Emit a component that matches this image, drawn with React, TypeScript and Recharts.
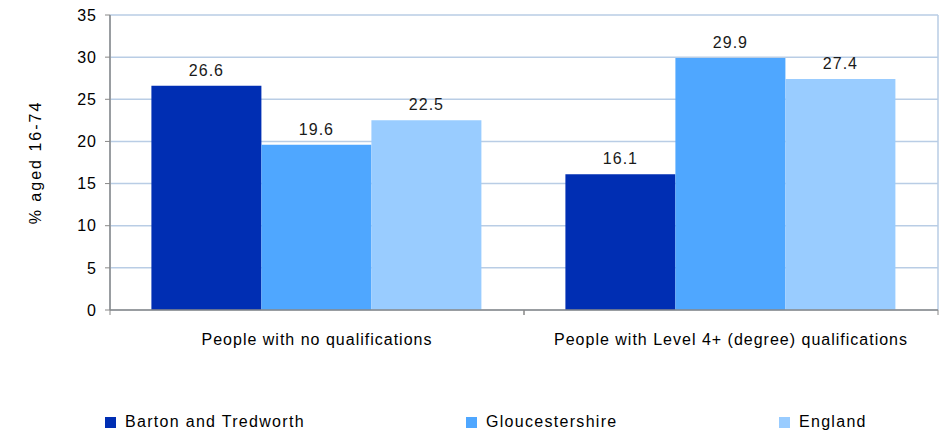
import { Bar, BarChart, CartesianGrid, LabelList, Legend, XAxis, YAxis } from 'recharts';

const categories = ['People with no qualifications', 'People with Level 4+ (degree) qualifications'];
const bartonValues = [26.6, 16.1];
const gloucsValues = [19.6, 29.9];
const englandValues = [22.5, 27.4];
const yTicks = [0, 5, 10, 15, 20, 25, 30, 35];
const edgeTicks = [0, 1, 2];

const seriesInfo = [
  { key: 'barton', name: 'Barton and Tredworth', color: '#002EB3' },
  { key: 'gloucs', name: 'Gloucestershire', color: '#4FA7FF' },
  { key: 'england', name: 'England', color: '#99CCFF' },
];
const legendLeft = [105, 466, 779];

const data = categories.map((name, i) => ({
  name,
  barton: bartonValues[i],
  gloucs: gloucsValues[i],
  england: englandValues[i],
}));

const FONT = '"Liberation Sans", Arial, sans-serif';

const CategoryTick = (props: any) => {
  const { x, y, payload } = props;
  const half = payload.offset || 0;
  return (
    <g>
      <line x1={x - half} x2={x - half} y1={y} y2={y + 5} stroke="#888888" />
      <line x1={x + half} x2={x + half} y1={y} y2={y + 5} stroke="#888888" />
      <text x={x} y={y + 35} textAnchor="middle" fill="#000" fontSize={16} letterSpacing={1} fontFamily={FONT}>
        {payload.value}
      </text>
    </g>
  );
};

const LegendBox = () => (
  <div style={{ position: 'relative', height: 20, width: 941, fontFamily: FONT, fontSize: 16, letterSpacing: 1.3 }}>
    {seriesInfo.map((s, i) => (
      <div
        key={s.key}
        style={{ position: 'absolute', left: legendLeft[i], top: 0, display: 'flex', alignItems: 'center', height: 20 }}
      >
        <span style={{ width: 11, height: 11, background: s.color, display: 'inline-block', marginRight: 9 }} />
        <span style={{ color: '#000' }}>{s.name}</span>
      </div>
    ))}
  </div>
);

export default function App() {
  return (
    <div style={{ position: 'absolute', left: 0, top: 0, background: '#fff' }}>
      <BarChart
        width={941}
        height={434}
        data={data}
        margin={{ top: 15, right: 3, left: 0, bottom: 64 }}
        barCategoryGap="10%"
        barGap={0}
        style={{ fontFamily: FONT }}
      >
        <XAxis xAxisId="grid" type="number" domain={[0, 2]} ticks={edgeTicks} hide />
        <CartesianGrid xAxisId="grid" stroke="#B9CDE5" strokeWidth={1.5} />
        <XAxis
          dataKey="name"
          height={40}
          tickSize={0}
          tickMargin={0}
          tickLine={false}
          axisLine={{ stroke: '#888888', strokeWidth: 1.5 }}
          tick={<CategoryTick />}
          interval={0}
        />
        <YAxis
          width={110}
          domain={[0, 35]}
          ticks={yTicks}
          interval={0}
          tickSize={5}
          tickMargin={8}
          axisLine={{ stroke: '#888888', strokeWidth: 1.5 }}
          tickLine={{ stroke: '#888888' }}
          tick={{ fill: '#000', fontSize: 16, letterSpacing: 1 }}
          label={{
            value: '% aged 16-74',
            angle: -90,
            position: 'center',
            dx: -20,
            fill: '#000',
            fontSize: 16,
            letterSpacing: 2,
          }}
        />
        <Legend verticalAlign="bottom" content={<LegendBox />} wrapperStyle={{ top: 412, left: 0, width: 941 }} />
        {seriesInfo.map((s) => (
          <Bar key={s.key} dataKey={s.key} name={s.name} fill={s.color} isAnimationActive={false}>
            <LabelList dataKey={s.key} position="top" offset={10} fill="#1a1a1a" fontSize={16} letterSpacing={1} />
          </Bar>
        ))}
      </BarChart>
    </div>
  );
}
